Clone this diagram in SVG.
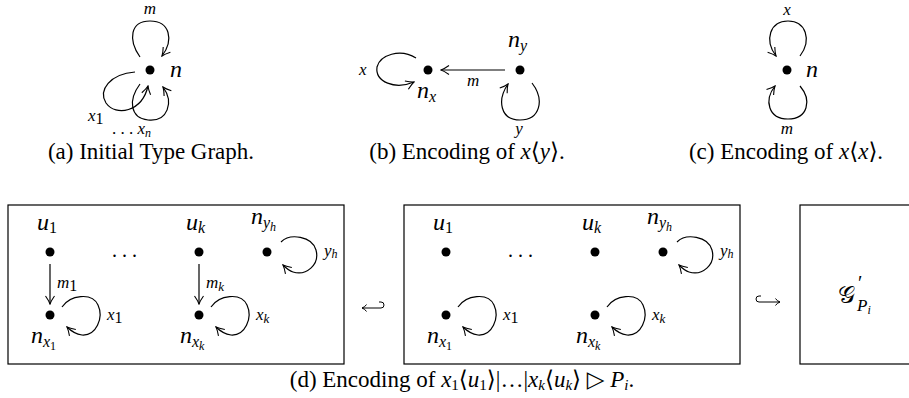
<svg xmlns="http://www.w3.org/2000/svg" width="909" height="398" viewBox="0 0 909 398">
<style>
.t{font-family:"Liberation Serif","DejaVu Serif",serif;fill:#000}
.cap{font-size:23px}
.i{font-style:italic}
.lab{font-size:24px;font-style:italic}
.el{font-size:17px;font-style:italic}
.sub{font-size:16px}
.e{fill:none;stroke:#000;stroke-width:1.2}
.hk{fill:none;stroke:#000;stroke-width:1}
.box{fill:none;stroke:#000;stroke-width:1.2}
</style>
<defs>
<marker id="ah" viewBox="-9 -6 10 12" refX="0" refY="0" markerWidth="10" markerHeight="12" markerUnits="userSpaceOnUse" orient="auto">
<path d="M-8,-4.5 Q-3,-1 0,0 Q-3,1 -8,4.5" fill="none" stroke="#000" stroke-width="1.1"/>
</marker>
</defs>
<rect width="909" height="398" fill="#fff"/>

<!-- Panel (a) -->
<g id="a-n">
<circle cx="150" cy="70" r="4.5"/>
<text class="t lab" x="170" y="77">n</text>
</g>
<!-- Panel (b) -->
<g id="b-nx">
<circle cx="428" cy="70" r="4.5"/>
<text class="t lab" x="417" y="98">n<tspan class="sub" dy="4">x</tspan></text>
</g>
<g id="b-ny">
<circle cx="520" cy="70" r="4.5"/>
<text class="t lab" x="508" y="47">n<tspan class="sub" dy="4">y</tspan></text>
</g>
<!-- Panel (c) -->
<g id="c-n">
<circle cx="787" cy="70" r="4.5"/>
<text class="t lab" x="806" y="77">n</text>
</g>

<!-- Panel (d) boxes -->
<g id="box1">
<rect class="box" x="8" y="205" width="336" height="159"/>
<g id="b1-u1"><circle cx="50" cy="252" r="4.5"/><text class="t lab" x="37" y="230">u<tspan class="sub" font-style="normal" dy="3">1</tspan></text></g>
<g id="b1-uk"><circle cx="199" cy="252" r="4.5"/><text class="t lab" x="186" y="230">u<tspan class="sub" dy="3">k</tspan></text></g>
<g id="b1-nyh"><circle cx="267" cy="252" r="4.5"/><text class="t lab" x="251" y="224">n<tspan class="sub" dy="4">y<tspan font-size="12" dy="3">h</tspan></tspan></text></g>
<g id="b1-nx1"><circle cx="50" cy="315" r="4.5"/><text class="t lab" x="31" y="343">n<tspan class="sub" dy="4">x<tspan font-size="12" font-style="normal" dy="3">1</tspan></tspan></text></g>
<g id="b1-nxk"><circle cx="199" cy="315" r="4.5"/><text class="t lab" x="180" y="343">n<tspan class="sub" dy="4">x<tspan font-size="12" dy="3">k</tspan></tspan></text></g>
<text class="t" x="112" y="257" font-size="20">. . .</text>
</g>
<g id="box2">
<rect class="box" x="404" y="205" width="336" height="159"/>
<g id="b2-u1"><circle cx="446" cy="252" r="4.5"/><text class="t lab" x="433" y="230">u<tspan class="sub" font-style="normal" dy="3">1</tspan></text></g>
<g id="b2-uk"><circle cx="595" cy="252" r="4.5"/><text class="t lab" x="582" y="230">u<tspan class="sub" dy="3">k</tspan></text></g>
<g id="b2-nyh"><circle cx="663" cy="252" r="4.5"/><text class="t lab" x="647" y="224">n<tspan class="sub" dy="4">y<tspan font-size="12" dy="3">h</tspan></tspan></text></g>
<g id="b2-nx1"><circle cx="446" cy="315" r="4.5"/><text class="t lab" x="427" y="343">n<tspan class="sub" dy="4">x<tspan font-size="12" font-style="normal" dy="3">1</tspan></tspan></text></g>
<g id="b2-nxk"><circle cx="595" cy="315" r="4.5"/><text class="t lab" x="576" y="343">n<tspan class="sub" dy="4">x<tspan font-size="12" dy="3">k</tspan></tspan></text></g>
<text class="t" x="508" y="257" font-size="20">. . .</text>
</g>
<g id="box3">
<rect class="box" x="800" y="205" width="120" height="159"/>
<text class="t" x="838" y="303" font-size="24" font-family="'DejaVu Serif',serif">𝒢</text>
<text class="t" x="858" y="290" font-size="20">′</text>
<text class="t i" x="857" y="311" font-size="17">P<tspan font-size="12" dy="3">i</tspan></text>
</g>
<g id="hooks">
<path class="hk" d="M362,308 L381,308 A3,3 0 0 0 381,302 L379,302"/>
<path class="hk" d="M366.5,304.5 Q365,307 362,308 Q365,309 366.5,311.5"/>
<path class="hk" d="M780,302 L759,302 A3,3 0 0 1 759,296 L761,296"/>
<path class="hk" d="M775.5,298.5 Q777,301 780,302 Q777,303 775.5,305.5"/>
</g>

<!-- Connectors -->
<g id="connectors">
<!-- (a) -->
<path class="e" d="M140,57 C128,40 130,21 150,21 C170,21 174,40 162,56" marker-end="url(#ah)"/>
<path class="e" d="M135,72 C110,74 98,90 106,103 C116,117 142,112 148,86" marker-end="url(#ah)"/>
<path class="e" d="M140,84 C128,100 130,118 148,120 C168,122 174,102 163,87" marker-end="url(#ah)"/>
<!-- (b) -->
<path class="e" d="M505,70 L441,70" marker-end="url(#ah)"/>
<path class="e" d="M416,58 C400,48 380,55 377,67 C375,82 395,90 414,82" marker-end="url(#ah)"/>
<path class="e" d="M532,83 C545,100 540,120 520,120 C500,120 497,100 508,84" marker-end="url(#ah)"/>
<!-- (c) -->
<path class="e" d="M800,56 C812,40 806,21 788,21 C770,21 764,40 776,56" marker-end="url(#ah)"/>
<path class="e" d="M800,86 C812,100 808,119 788,119 C768,119 764,100 775,86" marker-end="url(#ah)"/>
<!-- box1 -->
<path class="e" d="M50,264 L50,304" marker-end="url(#ah)"/>
<path class="e" d="M199,264 L199,304" marker-end="url(#ah)"/>
<path class="e" d="M281,242 C290,233 312,236 316,250 C320,265 306,276 293,272 C289,271 286,268 283,265" marker-end="url(#ah)"/>
<path class="e" d="M62,307 C70,295 92,292 98,305 C104,318 96,336 82,335 C75,334 71,331 67,327" marker-end="url(#ah)"/>
<path class="e" d="M211,307 C219,295 241,292 247,305 C253,318 245,336 231,335 C224,334 220,331 216,327" marker-end="url(#ah)"/>
<!-- box2 -->
<path class="e" d="M677,242 C686,233 708,236 712,250 C716,265 702,276 689,272 C685,271 682,268 679,265" marker-end="url(#ah)"/>
<path class="e" d="M458,307 C466,295 488,292 494,305 C500,318 492,336 478,335 C471,334 467,331 463,327" marker-end="url(#ah)"/>
<path class="e" d="M607,307 C615,295 637,292 643,305 C649,318 641,336 627,335 C620,334 616,331 612,327" marker-end="url(#ah)"/>
</g>

<!-- Edge labels -->
<g id="edge-labels">
<text class="t el" x="150" y="14" text-anchor="middle">m</text>
<text class="t el" x="88" y="121">x<tspan class="sub" font-style="normal" font-size="13" dy="3">1</tspan></text>
<text class="t" x="112" y="134" font-size="17">. . . <tspan class="i">x</tspan><tspan class="i" font-size="12" dy="3">n</tspan></text>
<text class="t el" x="359" y="75">x</text>
<text class="t el" x="467" y="86">m</text>
<text class="t el" x="519" y="134" text-anchor="middle">y</text>
<text class="t el" x="787" y="15" text-anchor="middle">x</text>
<text class="t el" x="787" y="134" text-anchor="middle">m</text>
<text class="t el" x="57" y="288">m<tspan class="sub" font-style="normal" font-size="13" dy="3">1</tspan></text>
<text class="t el" x="206" y="288">m<tspan font-size="13" dy="3">k</tspan></text>
<text class="t el" x="324" y="256">y<tspan font-size="12" dy="2">h</tspan></text>
<text class="t el" x="107" y="320">x<tspan class="sub" font-style="normal" font-size="13" dy="3">1</tspan></text>
<text class="t el" x="256" y="320">x<tspan font-size="13" dy="3">k</tspan></text>
<text class="t el" x="720" y="256">y<tspan font-size="12" dy="2">h</tspan></text>
<text class="t el" x="503" y="320">x<tspan class="sub" font-style="normal" font-size="13" dy="3">1</tspan></text>
<text class="t el" x="652" y="320">x<tspan font-size="13" dy="3">k</tspan></text>
</g>

<!-- Captions -->
<g id="captions">
<text class="t cap" x="151" y="159" text-anchor="middle">(a)  Initial Type Graph.</text>
<text class="t cap" x="467" y="159" text-anchor="middle">(b)  Encoding of <tspan class="i">x</tspan>⟨<tspan class="i">y</tspan>⟩.</text>
<text class="t cap" x="786" y="159" text-anchor="middle">(c)  Encoding of <tspan class="i">x</tspan>⟨<tspan class="i">x</tspan>⟩.</text>
<text class="t cap" x="462" y="387" text-anchor="middle">(d)  Encoding of <tspan class="i">x</tspan><tspan font-size="15" dy="3">1</tspan><tspan dy="-3">⟨</tspan><tspan class="i">u</tspan><tspan font-size="15" dy="3">1</tspan><tspan dy="-3">⟩|…|</tspan><tspan class="i">x</tspan><tspan class="i" font-size="15" dy="3">k</tspan><tspan dy="-3">⟨</tspan><tspan class="i">u</tspan><tspan class="i" font-size="15" dy="3">k</tspan><tspan dy="-3">⟩ ▷ </tspan><tspan class="i">P</tspan><tspan class="i" font-size="15" dy="3">i</tspan><tspan dy="-3">.</tspan></text>
</g>
</svg>
